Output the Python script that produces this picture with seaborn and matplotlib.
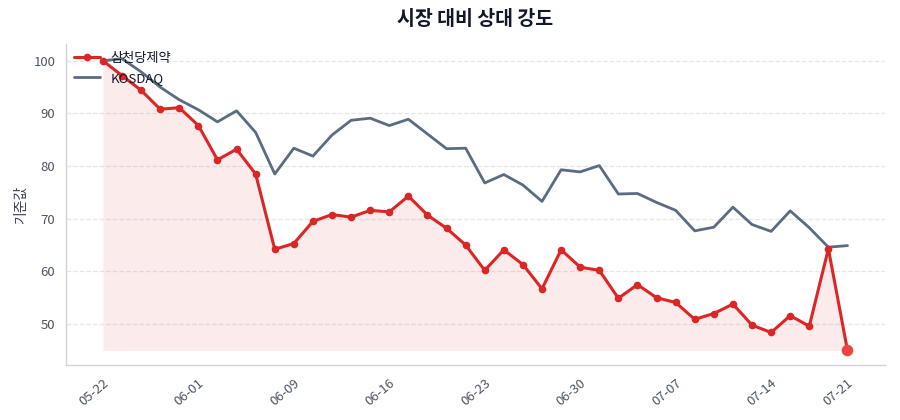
import numpy as np
import pandas as pd
import seaborn as sns
import matplotlib.pyplot as plt

# 기준값 (첫날 = 100)
stock_name = '삼천당제약'
index_name = 'KOSDAQ'
stock_vals = [100.0, 97.2, 94.4, 90.8, 91.1, 87.7, 81.2, 83.2, 78.5, 64.2,
              65.3, 69.5, 70.8, 70.3, 71.6, 71.3, 74.3, 70.7, 68.2, 65.0,
              60.2, 64.1, 61.3, 56.7, 64.1, 60.8, 60.2, 54.9, 57.5, 55.0,
              54.1, 50.9, 52.0, 53.8, 49.8, 48.4, 51.6, 49.6, 64.3, 45.0]
index_vals = [100.0, 100.4, 97.9, 95.0, 92.6, 90.7, 88.4, 90.5, 86.4, 78.5,
              83.4, 81.9, 85.9, 88.7, 89.1, 87.7, 88.9, 86.1, 83.3, 83.4,
              76.8, 78.4, 76.4, 73.3, 79.3, 78.9, 80.1, 74.7, 74.8, 73.1,
              71.6, 67.7, 68.4, 72.2, 68.9, 67.6, 71.5, 68.3, 64.6, 64.9]
tick_pos = [0, 5, 10, 15, 20, 25, 30, 35, 39]
tick_labels = ['05-22', '06-01', '06-09', '06-16', '06-23', '06-30', '07-07', '07-14', '07-21']

RED = '#dc2626'
SLATE = '#5b6b82'

sns.set_theme(style='white')
plt.rcParams['font.family'] = ['Noto Sans CJK KR', 'DejaVu Sans']
plt.rcParams['axes.unicode_minus'] = False

x = np.arange(len(stock_vals))
df = pd.DataFrame({'idx': x, stock_name: stock_vals, index_name: index_vals})

fig, ax = plt.subplots(figsize=(9, 4.2), dpi=100)
fig.subplots_adjust(left=0.073, right=0.983, bottom=0.131, top=0.895)

base = min(stock_vals)
ax.fill_between(x, stock_vals, base, color=RED, alpha=0.09, linewidth=0)
sns.lineplot(data=df, x='idx', y=stock_name, ax=ax, color=RED, linewidth=2.2,
             marker='o', markersize=5.5, markeredgewidth=0, label=stock_name, zorder=3)
sns.lineplot(data=df, x='idx', y=index_name, ax=ax, color=SLATE, linewidth=2.0,
             label=index_name, zorder=2)
ax.scatter([x[-1]], [stock_vals[-1]], s=70, color='#ef4444', zorder=4, linewidth=0)

ax.set_xticks(tick_pos)
ax.set_xticklabels(tick_labels, rotation=40, ha='right', rotation_mode='anchor')
ax.set_yticks([50, 60, 70, 80, 90, 100])
ax.tick_params(axis='both', labelsize=9.5, colors='#4b5563', length=4, width=0.8)
ax.tick_params(axis='x', pad=4)
ax.set_xlabel('')
ax.set_ylabel('기준값', fontsize=10, color='#374151')
ax.set_title('시장 대비 상대 강도', fontsize=14, fontweight='bold', color='#111827', pad=14)

ax.grid(axis='y', linestyle='--', color='#e5e7eb', linewidth=0.9)
sns.despine(ax=ax)
for s in ['left', 'bottom']:
    ax.spines[s].set_color('#d1d5db')
    ax.spines[s].set_linewidth(1.0)

leg = ax.legend(loc='upper left', frameon=False, fontsize=9.5, borderaxespad=0.2,
                handlelength=2.0, labelspacing=0.5)
for t in leg.get_texts():
    t.set_color('#111827')

fig.savefig('out.png', dpi=100)
